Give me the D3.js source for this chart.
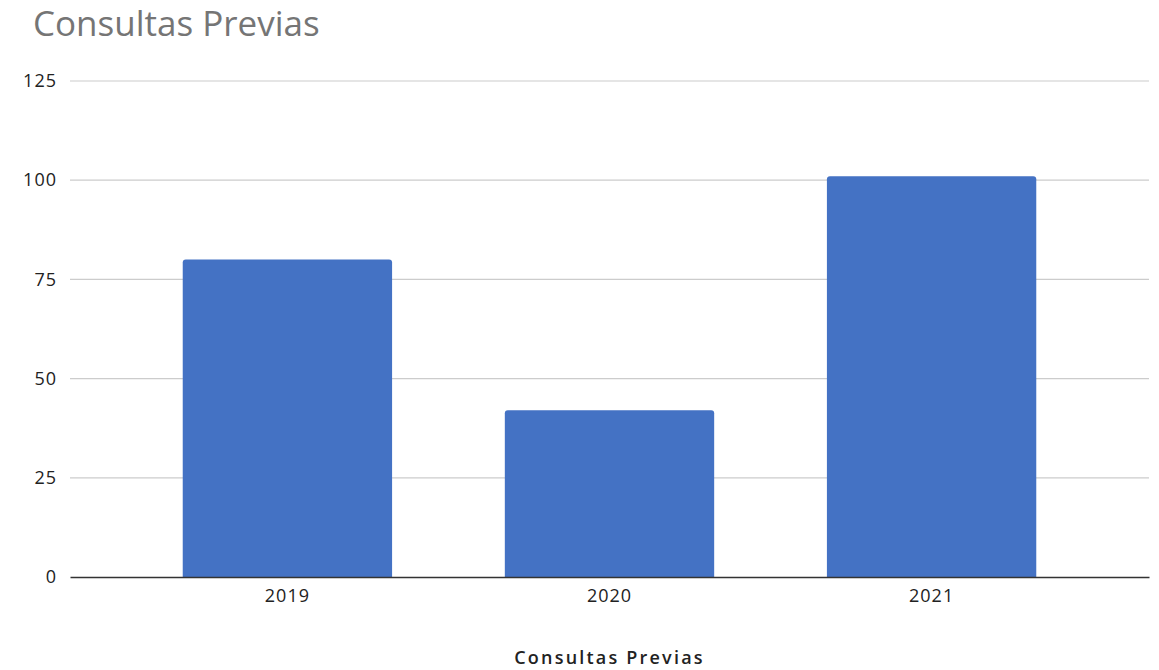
<!DOCTYPE html>
<html><head><meta charset="utf-8">
<script src="https://cdn.jsdelivr.net/npm/d3@7"></script>
<style>body{margin:0;background:#fff;} svg{display:block;}</style>
</head><body>
<script>
const categories = ["2019", "2020", "2021"];
const values = [80, 42, 101];
const yTicks = [0, 25, 50, 75, 100, 125];
const titleText = "Consultas Previas";
const xAxisTitle = "Consultas Previas";

const W = 1159, H = 670;
const m = {left: 70, right: 10, top: 81, bottom: 93};
const svg = d3.select("body").append("svg").attr("width", W).attr("height", H);

const x = d3.scaleBand().domain(categories).range([m.left, W - m.right]).paddingInner(0.35).paddingOuter(0.35);
const y = d3.scaleLinear().domain([0, 125]).range([H - m.bottom, m.top]);

svg.append("text").attr("x", 33).attr("y", 36).text(titleText)
  .attr("font-family", "Open Sans, sans-serif").attr("font-size", 35).attr("fill", "#757575");

const grid = svg.append("g");
grid.selectAll("line").data(yTicks.filter(d => d !== 0)).join("line")
  .attr("x1", m.left).attr("x2", W - m.right)
  .attr("y1", d => y(d)).attr("y2", d => y(d))
  .attr("stroke", "#cccccc").attr("stroke-width", 1.2);

const yAxis = svg.append("g").attr("transform", `translate(${m.left},0)`)
  .call(d3.axisLeft(y).tickValues(yTicks).tickSize(0).tickPadding(13));
yAxis.select(".domain").remove();
yAxis.selectAll("text").attr("font-family", "Open Sans, sans-serif").attr("font-size", 18)
  .attr("letter-spacing", 1).attr("fill", "#222");

const r = 3;
svg.append("g").selectAll("path").data(categories).join("path")
  .attr("fill", "#4472c4")
  .attr("d", (c, i) => {
    const x0 = x(c), x1 = x(c) + x.bandwidth(), yt = y(values[i]), yb = y(0);
    return `M${x0},${yb}V${yt + r}Q${x0},${yt} ${x0 + r},${yt}H${x1 - r}Q${x1},${yt} ${x1},${yt + r}V${yb}Z`;
  });

const xAxis = svg.append("g").attr("transform", `translate(0,${y(0)})`)
  .call(d3.axisBottom(x).tickSize(0).tickPadding(12));
xAxis.select(".domain").attr("stroke", "#333").attr("stroke-width", 1.5);
xAxis.selectAll("text").attr("font-family", "Open Sans, sans-serif").attr("font-size", 18)
  .attr("letter-spacing", 1).attr("fill", "#222");

svg.append("text").attr("x", (m.left + W - m.right) / 2).attr("y", 664).attr("text-anchor", "middle")
  .text(xAxisTitle).attr("font-family", "Open Sans, sans-serif").attr("font-size", 18)
  .attr("letter-spacing", 2.2).attr("font-weight", 600).attr("fill", "#222");
</script>
</body></html>
